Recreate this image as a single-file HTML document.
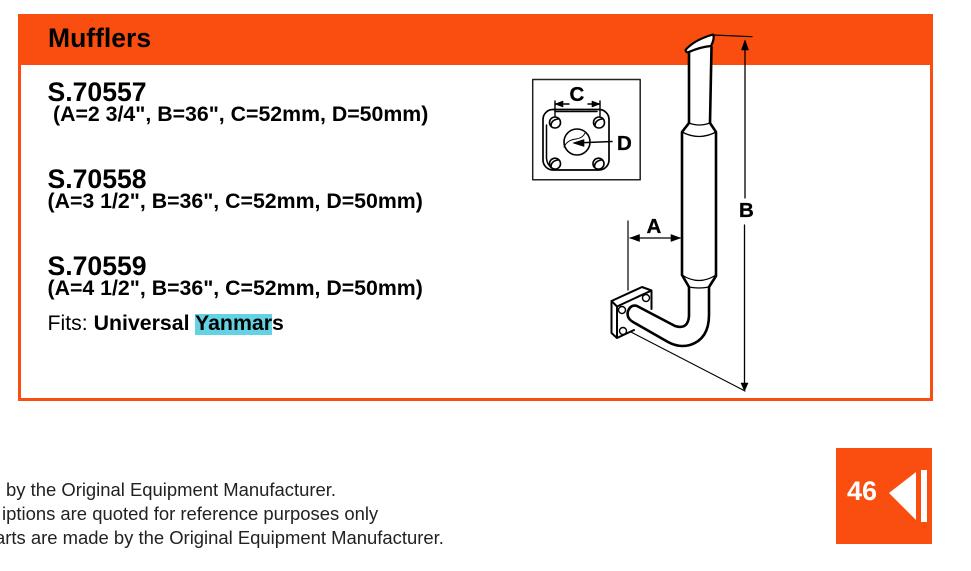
<!DOCTYPE html>
<html><head><meta charset="utf-8"><style>
html,body{margin:0;padding:0;background:#fff}
body{width:971px;height:571px;position:relative;overflow:hidden;font-family:"Liberation Sans",sans-serif;color:#000}
div{position:absolute;white-space:nowrap}
.code{left:47.500px;font-size:26.600px;font-weight:bold;line-height:28px}
.sub{font-size:21.300px;font-weight:bold;line-height:22px}
.foot{font-size:18.450px;line-height:22px;color:#222}
</style></head><body>
<div style="left:18px;top:14px;width:915px;height:387px;box-sizing:border-box;border:3px solid #f94e10;border-top:0"></div>
<div style="left:18px;top:14px;width:915px;height:51px;background:#f94e10"></div>
<div style="left:48px;top:23px;font-size:26.500px;font-weight:bold;line-height:30px">Mufflers</div>
<div class="code" style="top:78px">S.70557</div>
<div class="sub" style="left:53px;top:103px">(A=2 3/4", B=36", C=52mm, D=50mm)</div>
<div class="code" style="top:165px">S.70558</div>
<div class="sub" style="left:47.500px;top:190px">(A=3 1/2", B=36", C=52mm, D=50mm)</div>
<div class="code" style="top:252px">S.70559</div>
<div class="sub" style="left:47.500px;top:277px">(A=4 1/2", B=36", C=52mm, D=50mm)</div>
<div style="left:195px;top:314px;width:77px;height:20.500px;background:#63d3e4"></div>
<div style="left:47.500px;top:312px;font-size:21.300px;line-height:22px">Fits: <b>Universal Yanmars</b></div>
<div class="foot" style="left:6px;top:479px">by the Original Equipment Manufacturer.</div>
<div class="foot" style="left:2px;top:503px">iptions are quoted for reference purposes only</div>
<div class="foot" style="left:-5px;top:527px">arts are made by the Original Equipment Manufacturer.</div>
<div style="left:836px;top:448px;width:96px;height:96px;background:#f94e10"></div>
<div style="left:847px;top:475px;font-size:27px;font-weight:bold;line-height:32px;color:#fff">46</div>

<svg width="971" height="571" viewBox="0 0 971 571" style="position:absolute;left:0;top:0" fill="none" stroke="#000" stroke-linejoin="round" stroke-linecap="round">
<polygon points="889,493 916,472 916,520" fill="#fff" stroke="none"/>
<rect x="921" y="470" width="6" height="52" fill="#fff" stroke="none"/>

<!-- inset -->
<rect x="532.700" y="79.500" width="107.500" height="100.200" stroke="#222" stroke-width="1.500"/>
<rect x="543" y="109.500" width="66" height="60.500" rx="10" stroke-width="1.700"/>
<path d="M546.500 125V158Q547 166 554 169M555 111.500H597" stroke-width="1.500"/>
<g stroke-width="1.600">
<ellipse cx="555" cy="122.500" rx="5.500" ry="5.500"/><ellipse cx="599" cy="122.500" rx="5.500" ry="5.500"/>
<ellipse cx="555" cy="163.700" rx="5.500" ry="5.500"/><ellipse cx="598.500" cy="163.700" rx="5.500" ry="5.500"/>
<path d="M551 126q0-6 7-7M595 126q0-6 7-7M551 167q0-6 7-7M594.500 167q0-6 7-7"/>
<circle cx="577" cy="142" r="13"/><path d="M564 147q3-7 12-8 7-1 9-6" stroke-width="1"/>
</g>
<path d="M555 101V116M600 101V116" stroke-width="1.400"/>
<path d="M555 104H569M600 104H588" stroke-width="1.500"/>
<polygon points="555,104 563,101 563,107" fill="#000" stroke="#000" stroke-width=".6"/>
<polygon points="600,104 592,101 592,107" fill="#000" stroke="#000" stroke-width=".6"/>
<path d="M575 143L612 141.500" stroke-width="1.500"/>
<polygon points="573,143 584,139.500 584,146.500" fill="#000" stroke="#000" stroke-width=".6"/>

<!-- B dim -->
<path d="M713 35L752 36.700" stroke-width="1.200"/>
<path d="M745 42V198M744.500 225V388" stroke-width="1.300"/>
<polygon points="745,40 741.500,50 748.500,50" fill="#000" stroke="#000" stroke-width=".6"/>
<polygon points="744.500,391 741,383 748,383" fill="#000" stroke="#000" stroke-width=".6"/>
<path d="M630 331.500L745 391" stroke-width="1.100"/>

<!-- flange -->
<path d="M611.500 301L642 287L651.500 290V308L633 330L617 338L611.500 333Z" fill="#fff" stroke="none"/>
<path d="M611.500 301L642 287L651.500 290.500L617 306.500ZM611.500 301V333L617 338V306.500M651.500 290.500V309M617 338L634 330" stroke-width="2"/>
<g stroke-width="1.400"><circle cx="622" cy="310" r="3.500"/><circle cx="646" cy="298" r="3.500"/><circle cx="623" cy="331" r="3.500"/></g>

<!-- muffler -->
<path d="M689 52V123L682 132V275L689 287V316Q688 330 675 326L637 306Q631 304 628 311Q626 318 633 322L668 342Q679 348 690 345Q709 339 709 315V287L716 276V132L710 123L712 50L713 35Z" fill="#fff" stroke="none"/>
<path d="M685.500 50Q694 40 713 34.500Q715 38 711 46Q700 47 689 52Q686 53 685.500 50Z" fill="#fff" stroke-width="2.200"/>
<path d="M689 52V123L682 132V275L689 287V316Q688 330 675 326L637 306Q631 304 628 311Q626 318 633 322L668 342Q679 348 690 345Q709 339 709 315V287L716 276V132L710 123L711.500 47" stroke-width="2.600"/>
<path d="M682 132Q699 141 716 132M689 123Q699 127 710 123M682 275Q699 286 716 275M689 287Q699 289 709 287" stroke-width="1.300"/>

<!-- A dim -->
<path d="M628 221V290" stroke-width="1.200"/>
<path d="M630 238H680" stroke-width="1.300"/>
<polygon points="630,238 639.500,234.500 639.500,241.500" fill="#000" stroke="#000" stroke-width=".6"/>
<polygon points="680.500,238 671,234.500 671,241.500" fill="#000" stroke="#000" stroke-width=".6"/>

<g fill="#000" stroke="#000" stroke-width=".3" font-family="Liberation Sans" font-weight="bold" font-size="20.500">
<text x="569.500" y="101">C</text><text x="617" y="150">D</text>
<text x="646.500" y="233">A</text><text x="739" y="217">B</text></g>
</svg>
</body></html>
